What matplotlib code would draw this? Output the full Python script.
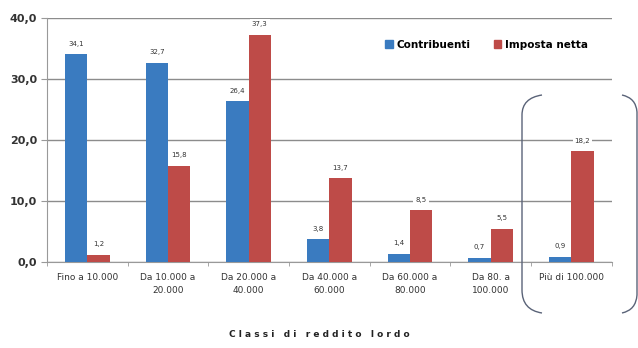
import numpy as np
import matplotlib.pyplot as plt
from matplotlib.patches import Patch
from matplotlib.path import Path
from matplotlib.patches import PathPatch

categorie = ["Fino a 10.000", "Da 10.000 a\n20.000", "Da 20.000 a\n40.000",
             "Da 40.000 a\n60.000", "Da 60.000 a\n80.000", "Da 80. a\n100.000",
             "Più di 100.000"]
contribuenti = [34.1, 32.7, 26.4, 3.8, 1.4, 0.7, 0.9]
imposta_netta = [1.2, 15.8, 37.3, 13.7, 8.5, 5.5, 18.2]

blu = "#3a7bc0"
rosso = "#be4b48"

fig = plt.figure(figsize=(6.38, 3.48), dpi=100)
ax = fig.add_axes([0.0737, 0.247, 0.885, 0.701])

x = np.arange(len(categorie))
w = 0.275
ax.bar(x - w / 2, contribuenti, w, color=blu, zorder=3)
ax.bar(x + w / 2, imposta_netta, w, color=rosso, zorder=3)

def fmt(v):
    return f"{v:.1f}".replace(".", ",")

for xi, v in zip(x - w / 2, contribuenti):
    ax.text(xi, v + 1.2, fmt(v), ha="center", va="bottom", fontsize=5,
            color="#333333", zorder=4,
            bbox=dict(facecolor="white", edgecolor="none", pad=1.5))
for xi, v in zip(x + w / 2, imposta_netta):
    ax.text(xi, v + 1.2, fmt(v), ha="center", va="bottom", fontsize=5,
            color="#333333", zorder=4,
            bbox=dict(facecolor="white", edgecolor="none", pad=1.5))

ax.set_xlim(-0.5, len(categorie) - 0.5)
ax.set_ylim(0, 40)
ax.set_yticks([0, 10, 20, 30, 40])
ax.set_yticklabels([fmt(v) for v in [0, 10, 20, 30, 40]], fontsize=8,
                   fontweight="bold", color="#333333")
ax.yaxis.grid(True, color="#8c8c8c", linewidth=1.0, zorder=0)
ax.tick_params(axis="y", length=4, color="#999999", pad=3)

ax.set_xticks(x)
ax.set_xticklabels(categorie, fontsize=6.5, color="#333333", linespacing=1.5)
ax.tick_params(axis="x", length=0, pad=8)
ax.set_xticks(np.arange(len(categorie) + 1) - 0.5, minor=True)
ax.tick_params(axis="x", which="minor", length=3, color="#999999")

for s in ["top", "right"]:
    ax.spines[s].set_visible(False)
ax.spines["left"].set_color("#999999")
ax.spines["bottom"].set_color("#999999")

ax.legend(handles=[Patch(color=blu, label="Contribuenti"),
                   Patch(color=rosso, label="Imposta netta")],
          loc="upper right", bbox_to_anchor=(0.975, 0.95), ncol=2, frameon=False,
          prop={"size": 7.5, "weight": "bold"}, handlelength=0.7, handleheight=0.7,
          handletextpad=0.4, columnspacing=2.2)

fig.text(0.5, 0.025, "C l a s s i   d i   r e d d i t o   l o r d o",
         ha="center", va="bottom", fontsize=6.5, fontweight="bold", color="#222222")

# parentesi arrotondate attorno all'ultima classe
W, H = 638, 348
def pix(px, py):
    return (px / W, 1 - py / H)

left = [pix(542, 95), pix(522, 98), pix(522, 115), pix(522, 290),
        pix(522, 310), pix(542, 313)]
codes = [Path.MOVETO, Path.CURVE3, Path.CURVE3, Path.LINETO,
         Path.CURVE3, Path.CURVE3]
right = [pix(622, 95), pix(636, 98), pix(637, 112), pix(637, 295),
         pix(636, 310), pix(622, 313)]
for verts in (left, right):
    p = PathPatch(Path(verts, codes), transform=fig.transFigure,
                  facecolor="none", edgecolor="#5a6378", linewidth=1.0)
    fig.patches.append(p)

fig.savefig("out.png", dpi=100)
